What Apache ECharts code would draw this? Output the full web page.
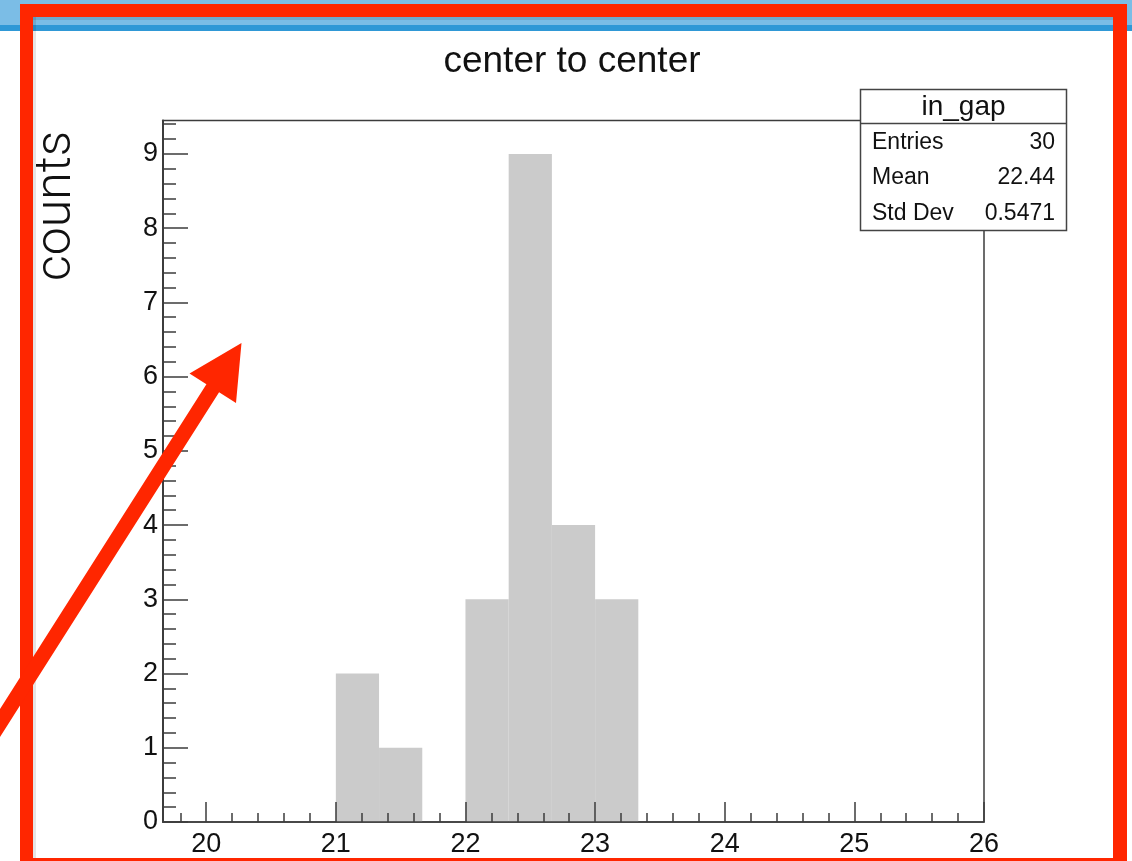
<!DOCTYPE html>
<html><head><meta charset="utf-8">
<script src="https://cdn.jsdelivr.net/npm/echarts@6/dist/echarts.min.js"></script>
<style>html,body{margin:0;padding:0;background:#fff}#c{width:1132px;height:861px}</style>
</head><body><div id="c"></div>
<script>
// ---- data ----
const binEdges = [19.6667, 20, 20.3333, 20.6667, 21, 21.3333, 21.6667, 22, 22.3333, 22.6667, 23, 23.3333, 23.6667, 24, 24.3333, 24.6667, 25, 25.3333, 25.6667, 26];
const binCounts = [0, 0, 0, 0, 2, 1, 0, 3, 9, 4, 3, 0, 0, 0, 0, 0, 0, 0, 0];
const xTickLabels = [20, 21, 22, 23, 24, 25, 26];
const yTickLabels = [0, 1, 2, 3, 4, 5, 6, 7, 8, 9];
const chartTitle = 'center to center';
const yTitle = 'counts';
const statsTitle = 'in_gap';
const statsNames = ['Entries', 'Mean', 'Std Dev'];
const statsValues = ['30', '22.44', '0.5471'];

// ---- helpers ----
const FONT = "'Liberation Sans', Arial, Helvetica, sans-serif";
const AX = '#3c3c3c';
const RED = '#ff2600';
function minorTicks(lo, hi, step) {
  const out = [];
  const n = Math.round((hi - lo) / step);
  for (let i = 0; i <= n; i++) {
    const v = Math.round((lo + i * step) * 1000) / 1000;
    if (Math.abs(v - Math.round(v)) > 1e-6) out.push(v);
  }
  return out;
}
const xMinor = minorTicks(19.8, 25.8, 0.2);
const yMinor = minorTicks(0.2, 9.4, 0.2);
const histData = binCounts.map((c, i) => [binEdges[i], binEdges[i + 1], c]);

// arrow geometry (annotation)
const T = [241.5, 343], B1 = [189.5, 373.5], B2 = [236, 403];
const M = [(B1[0] + B2[0]) / 2, (B1[1] + B2[1]) / 2];
const dl = Math.hypot(T[0] - M[0], T[1] - M[1]);
const u = [(T[0] - M[0]) / dl, (T[1] - M[1]) / dl];
const nrm = [-u[1], u[0]];
const hw = 7.5;
const S = [M[0] - 460 * u[0], M[1] - 460 * u[1]];
const side = (B1[0] - M[0]) * nrm[0] + (B1[1] - M[1]) * nrm[1] < 0 ? -1 : 1;
const P = (p, k) => [p[0] + side * k * hw * nrm[0], p[1] + side * k * hw * nrm[1]];
const arrowPts = [P(S, 1), P(M, 1), B1, T, B2, P(M, -1), P(S, -1)];
// red slide frame as one closed band polygon (outer ring then inner ring)
const fo = [20, 4, 1127, 871], fi = [33, 17, 1113, 858];
const framePts = [[fo[0], fo[1]], [fo[2], fo[1]], [fo[2], fo[3]], [fo[0], fo[3]], [fo[0], fi[1]],
                  [fi[0], fi[1]], [fi[0], fi[3]], [fi[2], fi[3]], [fi[2], fi[1]], [fo[0], fi[1]]];

const chart = echarts.init(document.getElementById('c'), null, {renderer: 'canvas'});
const axisBase = {type: 'value', splitLine: {show: false}, z: 10};
chart.setOption({
  animation: false,
  backgroundColor: '#fff',
  grid: {left: 163, right: 148, top: 120.5, bottom: 39, show: true,
         borderColor: AX, borderWidth: 1.5, backgroundColor: '#fff'},
  xAxis: [
    Object.assign({}, axisBase, {
      min: binEdges[0], max: binEdges[binEdges.length - 1], position: 'bottom',
      axisLine: {show: true, lineStyle: {color: AX, width: 1.5}},
      axisTick: {show: true, inside: true, length: 20, customValues: xTickLabels,
                 lineStyle: {color: AX, width: 1.5}},
      axisLabel: {show: true, customValues: xTickLabels, fontSize: 27, color: '#111',
                  fontFamily: FONT, margin: 9}
    }),
    Object.assign({}, axisBase, {
      min: binEdges[0], max: binEdges[binEdges.length - 1], position: 'bottom',
      axisLine: {show: false},
      axisTick: {show: true, inside: true, length: 9, customValues: xMinor,
                 lineStyle: {color: AX, width: 1.5}},
      axisLabel: {show: false}
    })
  ],
  yAxis: [
    Object.assign({}, axisBase, {
      min: 0, max: 9.45, position: 'left',
      axisLine: {show: true, lineStyle: {color: AX, width: 2}},
      axisTick: {show: true, inside: true, length: 25, customValues: yTickLabels,
                 lineStyle: {color: AX, width: 1.5}},
      axisLabel: {show: true, customValues: yTickLabels, fontSize: 27, color: '#111',
                  fontFamily: FONT, margin: 5}
    }),
    Object.assign({}, axisBase, {
      min: 0, max: 9.45, position: 'left',
      axisLine: {show: false},
      axisTick: {show: true, inside: true, length: 13, customValues: yMinor,
                 lineStyle: {color: AX, width: 1.5}},
      axisLabel: {show: false}
    })
  ],
  series: [{
    type: 'custom', xAxisIndex: 0, yAxisIndex: 0, z: 1,
    data: histData,
    encode: {x: [0, 1], y: 2},
    renderItem: function (params, api) {
      const lo = api.coord([api.value(0), 0]);
      const hi = api.coord([api.value(1), api.value(2)]);
      return {type: 'rect',
              shape: {x: lo[0], y: hi[1], width: hi[0] - lo[0], height: lo[1] - hi[1]},
              style: {fill: '#cbcbcb'}};
    }
  }],
  graphic: [
    {type: 'rect', z: 0, shape: {x: 0, y: 0, width: 1132, height: 25}, style: {fill: '#7bbde6'}},
    {type: 'rect', z: 0, shape: {x: 0, y: 25, width: 1132, height: 6}, style: {fill: '#2f98d6'}},
    {type: 'rect', z: 39, shape: {x: 33, y: 17, width: 3, height: 850}, style: {fill: 'rgba(0,0,0,0.1)'}},
    {type: 'rect', z: 39, shape: {x: 33, y: 17, width: 1080, height: 3}, style: {fill: 'rgba(0,0,0,0.1)'}},
    {type: 'text', z: 20, x: 572, y: 62,
     style: {text: chartTitle, font: '37px ' + FONT, fill: '#111', textAlign: 'center', textVerticalAlign: 'middle'}},
    {type: 'text', z: 20, x: 57, y: 206, rotation: Math.PI / 2,
     style: {text: yTitle, font: "300 50px Roboto, 'Liberation Sans', sans-serif", fill: '#111', textAlign: 'center', textVerticalAlign: 'middle'}},
    {type: 'group', z: 30, children: [
      {type: 'rect', shape: {x: 860.5, y: 89.5, width: 206, height: 141},
       style: {fill: '#fff', stroke: '#444', lineWidth: 1.5}},
      {type: 'line', shape: {x1: 860.5, y1: 123.5, x2: 1066.5, y2: 123.5},
       style: {stroke: '#444', lineWidth: 1.5}},
      {type: 'text', x: 963.5, y: 107,
       style: {text: statsTitle, font: '28px ' + FONT, fill: '#111', textAlign: 'center', textVerticalAlign: 'middle'}},
      {type: 'text', x: 872, y: 143, style: {text: statsNames[0], font: '23px ' + FONT, fill: '#111', textAlign: 'left', textVerticalAlign: 'middle'}},
      {type: 'text', x: 1055, y: 143, style: {text: statsValues[0], font: '23px ' + FONT, fill: '#111', textAlign: 'right', textVerticalAlign: 'middle'}},
      {type: 'text', x: 872, y: 178, style: {text: statsNames[1], font: '23px ' + FONT, fill: '#111', textAlign: 'left', textVerticalAlign: 'middle'}},
      {type: 'text', x: 1055, y: 178, style: {text: statsValues[1], font: '23px ' + FONT, fill: '#111', textAlign: 'right', textVerticalAlign: 'middle'}},
      {type: 'text', x: 872, y: 213.5, style: {text: statsNames[2], font: '23px ' + FONT, fill: '#111', textAlign: 'left', textVerticalAlign: 'middle'}},
      {type: 'text', x: 1055, y: 213.5, style: {text: statsValues[2], font: '23px ' + FONT, fill: '#111', textAlign: 'right', textVerticalAlign: 'middle'}}
    ]},
    {type: 'polygon', z: 40, shape: {points: framePts}, style: {fill: RED}},
    {type: 'polygon', z: 50, shape: {points: arrowPts}, style: {fill: RED}}
  ]
});
</script>
</body></html>
